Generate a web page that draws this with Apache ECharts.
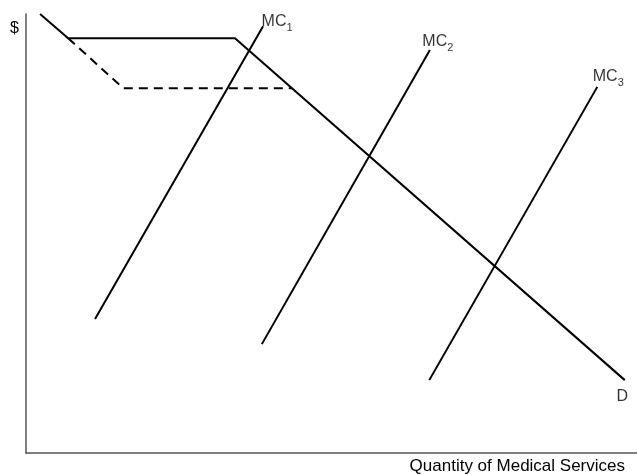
<!DOCTYPE html>
<html>
<head>
<meta charset="utf-8">
<script src="https://cdn.jsdelivr.net/npm/echarts@6/dist/echarts.min.js"></script>
<style>
html,body{margin:0;padding:0;background:#fff;}
#chart{width:637px;height:475px;}
</style>
</head>
<body>
<div id="chart"></div>
<script>
// Data (arbitrary units, 0-100 on both axes)
var demandX = [2.3, 6.9, 34.2, 98.0];
var demandY = [100, 94.5, 94.5, 16.6];
var dashedX = [6.9, 15.9, 43.5];
var dashedY = [94.5, 83.1, 83.1];
var mc1X = [11.3, 38.8];
var mc1Y = [30.5, 97.2];
var mc2X = [38.6, 66.1];
var mc2Y = [24.8, 91.8];
var mc3X = [66.0, 93.5];
var mc3Y = [16.6, 83.4];
var xAxisTitle = 'Quantity of Medical Services';
var yAxisTitle = '$';
var mcNames = ['MC', 'MC', 'MC'];
var mcSubs = ['1', '2', '3'];
var demandName = 'D';

function pts(xs, ys) { return xs.map(function (x, i) { return [x, ys[i]]; }); }

var FONT = '"Liberation Sans", Arial, sans-serif';
var lineBase = { type: 'line', symbol: 'none', silent: true, animation: false, clip: false };
function lineSeries(xs, ys, dashed) {
  return Object.assign({}, lineBase, {
    data: pts(xs, ys),
    lineStyle: { color: '#000', width: 2, type: dashed ? [9, 6] : 'solid' }
  });
}
var rich = {
  a: { fontSize: 16, fontFamily: FONT, color: '#000', lineHeight: 18, verticalAlign: 'bottom' },
  b: { fontSize: 11, fontFamily: FONT, color: '#000', lineHeight: 18, verticalAlign: 'bottom', padding: [0, 0, -4, 0] }
};
function mcLabel(i, xs, ys, off) {
  return {
    value: [xs[xs.length - 1], ys[ys.length - 1]],
    label: {
      show: true, position: off, align: 'left', verticalAlign: 'middle',
      formatter: '{a|' + mcNames[i] + '}{b|' + mcSubs[i] + '}', rich: rich
    }
  };
}

var chart = echarts.init(document.getElementById('chart'), null, { renderer: 'canvas' });
chart.setOption({
  animation: false,
  grid: { left: 26, right: 0, top: 14, bottom: 22 },
  title: [
    { text: xAxisTitle, right: 12, top: 458, padding: 0,
      textStyle: { fontSize: 17, fontWeight: 'normal', fontFamily: FONT, color: '#000' } },
    { text: yAxisTitle, left: 10, top: 21, padding: 0,
      textStyle: { fontSize: 16, fontWeight: 'normal', fontFamily: FONT, color: '#000' } }
  ],
  xAxis: {
    type: 'value', min: 0, max: 100,
    axisLine: { show: true, lineStyle: { color: '#555', width: 1.5 } },
    axisTick: { show: false }, axisLabel: { show: false }, splitLine: { show: false }
  },
  yAxis: {
    type: 'value', min: 0, max: 100,
    axisLine: { show: true, lineStyle: { color: '#555', width: 1.5 } },
    axisTick: { show: false }, axisLabel: { show: false }, splitLine: { show: false }
  },
  series: [
    lineSeries(demandX, demandY, false),
    lineSeries(dashedX, dashedY, true),
    lineSeries(mc1X, mc1Y, false),
    lineSeries(mc2X, mc2Y, false),
    lineSeries(mc3X, mc3Y, false),
    {
      type: 'scatter', symbolSize: 1, itemStyle: { color: 'rgba(0,0,0,0)' },
      silent: true, animation: false, clip: false,
      data: [
        mcLabel(0, mc1X, mc1Y, [-1, -5]),
        mcLabel(1, mc2X, mc2Y, [-7, -9]),
        mcLabel(2, mc3X, mc3Y, [-4, -11]),
        {
          value: [demandX[demandX.length - 1], demandY[demandY.length - 1]],
          label: {
            show: true, position: [-2, 17], align: 'center', verticalAlign: 'middle',
            formatter: demandName, fontSize: 16, fontFamily: FONT, color: '#000'
          }
        }
      ]
    }
  ]
});
</script>
</body>
</html>
